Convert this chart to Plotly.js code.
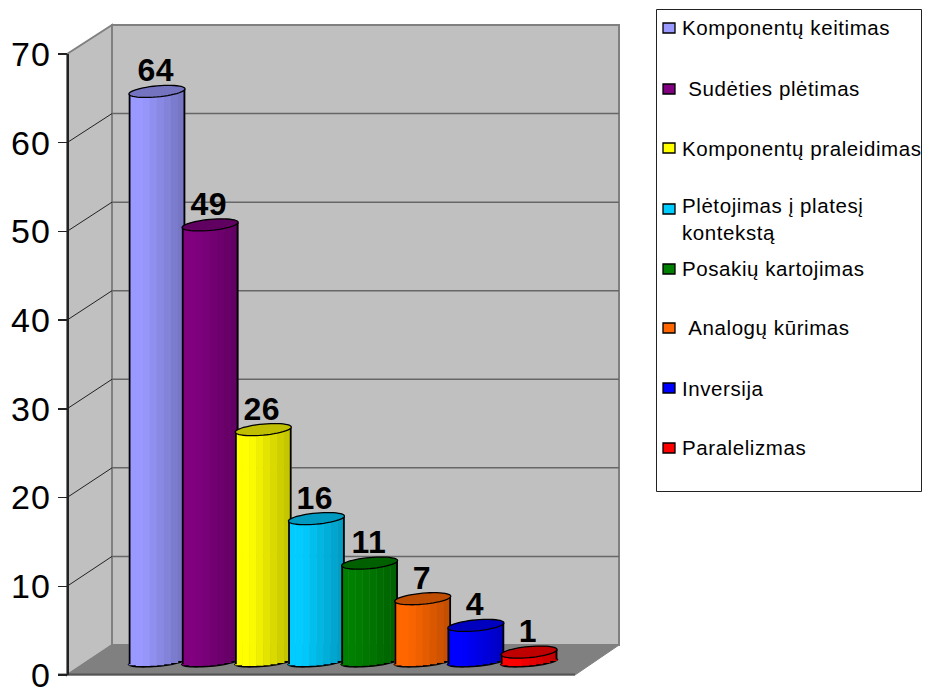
<!DOCTYPE html>
<html><head><meta charset="utf-8">
<script src="https://cdn.plot.ly/plotly-3.0.1.min.js"></script>
<style>html,body{margin:0;padding:0;background:#fff}#c{width:928px;height:687px}
.annotation text{letter-spacing:.58px}
.ytick text{letter-spacing:1.2px}</style>
</head><body><div id="c"></div>
<script>
const categories = ["Komponentų keitimas","\u00A0Sudėties plėtimas","Komponentų praleidimas","Plėtojimas į platesį<br>kontekstą","Posakių kartojimas","\u00A0Analogų kūrimas","Inversija","Paralelizmas"];
const values = [64,49,26,16,11,7,4,1];
const colors = ["#9999FF","#800080","#FFFF00","#00CCFF","#008000","#FF6600","#0000FF","#FF0000"];
const yTicks = [0,10,20,30,40,50,60,70];

const W=928,H=687;
const PX_STEP=53.15, X0=157;            // bar spacing on the page
const PX_UNIT=8.9, BASE_Y=661;          // bar scale
const RX=28, RY_TOP=5.5, RY_BOT=4.5, TILT=5/56;
const SLICES=8;
const fx=p=>p/W, fy=p=>1-p/H;
const shade=(hex,k)=>{const n=parseInt(hex.slice(1),16);
  return `rgb(${Math.round((n>>16&255)*k)},${Math.round((n>>8&255)*k)},${Math.round((n&255)*k)})`;};
const brightness=t=>t<0.25?1:1-(t-0.25)/0.75*0.25;

const traces=[{x:[0,1],y:[0,70],xaxis:'x',yaxis:'y',mode:'markers',marker:{opacity:0},hoverinfo:'skip',showlegend:false}];
const shapes=[];
const poly=(pts,o)=>shapes.push(Object.assign({type:'path',xref:'paper',yref:'paper',
  path:pts.map((p,i)=>(i?'L':'M')+fx(p[0])+','+fy(p[1])).join(' ')+' Z',layer:'below'},o));
const seg=(a,b,c,w)=>shapes.push({type:'line',xref:'paper',yref:'paper',x0:fx(a[0]),y0:fy(a[1]),x1:fx(b[0]),y1:fy(b[1]),layer:'below',line:{color:c,width:w}});

// walls and floor
poly([[112,25],[619,25],[619,645],[112,645]],{fillcolor:'#C0C0C0',line:{color:'#808080',width:2}});
poly([[67,54],[112,25],[112,645],[67,675]],{fillcolor:'#C0C0C0',line:{color:'#808080',width:2}});
poly([[67,675],[112,645],[619,645],[575,675]],{fillcolor:'#808080',line:{color:'#808080',width:1}});
yTicks.forEach(v=>{
  const yB=645-v*620/70, yF=675-v*621/70;
  if(v>0&&v<70){seg([112,yB],[619,yB],'#666666',1.5);seg([67,yF],[112,yB],'#222222',1);}
});
seg([58,674.5],[575,674.5],'#555555',2);

const dxData=p=>p/PX_STEP, dyData=p=>p/PX_UNIT;
values.forEach((v,i)=>{
  const slice=(dx,w,color)=>{
    const chord=TILT*dx;
    const f=Math.max(0,1-(dx/RX)*(dx/RX));
    const low=chord-RY_BOT*Math.sqrt(f);
    traces.push({type:'bar',x:[i+dxData(dx)],y:[v+dyData(chord-low)],base:[dyData(low)],
      width:[dxData(w)],xaxis:'x',yaxis:'y2',marker:{color,line:{width:0}},
      name:categories[i],hoverinfo:'skip',showlegend:false});
  };
  const sw=2*RX/SLICES;
  for(let k=0;k<SLICES;k++){
    const t=(k+.5)/SLICES;
    slice(-RX+sw*(k+.5),sw+0.4,shade(colors[i],brightness(t)));
  }
  slice(-RX+0.6,1.8,'#000');
  slice(RX-0.6,1.8,'#000');
  // bottom arc and top cap
  const arc=[];for(let a=0;a<=24;a++){const t=Math.PI+a/24*Math.PI;
    const px=RX*Math.cos(t),py=RY_BOT*Math.sin(t)+TILT*px;
    arc.push((a?'L':'M')+(i+dxData(px))+','+dyData(py));}
  shapes.push({type:'path',xref:'x',yref:'y2',path:arc.join(' '),layer:'between',line:{color:'#000',width:3}});
  const cap=[];for(let a=0;a<48;a++){const t=a/48*2*Math.PI;
    const px=RX*Math.cos(t),py=RY_TOP*Math.sin(t)+TILT*px;
    cap.push((a?'L':'M')+(i+dxData(px))+','+(v+dyData(py)));}
  shapes.push({type:'path',xref:'x',yref:'y2',path:cap.join(' ')+' Z',layer:'above',
    fillcolor:shade(colors[i],0.75),line:{color:'#000',width:1.3}});
});

// data labels
const annotations=values.map((v,i)=>({x:i,y:v,xref:'x',yref:'y2',text:'<b>'+v+'</b>',showarrow:false,
  xanchor:'center',yanchor:'bottom',yshift:1,xshift:-1,font:{family:'Liberation Sans',size:32,color:'#000'}}));

// legend
poly([[656.5,9.5],[921.5,9.5],[921.5,491.5],[656.5,491.5]],{fillcolor:'#fff',line:{color:'#222',width:1}});
const legendY=[27.5,88.5,148,219,268.5,327.5,388,447.5];
const swatchY=[28,89,148,209,269,328,388,448];
categories.forEach((c,i)=>{
  shapes.push({type:'rect',xref:'paper',yref:'paper',x0:fx(663),x1:fx(675),y0:fy(swatchY[i]+5),y1:fy(swatchY[i]-5),
    layer:'above',fillcolor:colors[i],line:{color:'#000',width:1.3}});
  annotations.push({xref:'paper',yref:'paper',x:fx(680),y:fy(legendY[i]),text:c,showarrow:false,
    xanchor:'left',yanchor:'middle',align:'left',font:{family:'Liberation Sans',size:20.5,color:'#000'}});
});

const layout={
  width:W,height:H,margin:{l:0,r:0,t:0,b:0},paper_bgcolor:'#fff',plot_bgcolor:'rgba(0,0,0,0)',
  barmode:'overlay',showlegend:false,hovermode:false,
  xaxis:{domain:[0,1],range:[-X0/PX_STEP,(W-X0)/PX_STEP],visible:false,fixedrange:true,anchor:'y2'},
  yaxis:{domain:[(H-675)/H,(H-54)/H],range:[0,70],tickvals:yTicks,ticktext:yTicks.map(String),
    anchor:'free',position:67/W,side:'left',showgrid:false,zeroline:false,showline:true,linecolor:'#222',linewidth:1.5,
    ticklabeloverflow:'allow',
    ticks:'outside',ticklen:9,tickcolor:'#222',tickwidth:1.5,tickfont:{family:'Liberation Sans',size:34,color:'#000'},fixedrange:true},
  yaxis2:{domain:[0,1],range:[-(H-BASE_Y)/PX_UNIT,BASE_Y/PX_UNIT],visible:false,fixedrange:true,anchor:'x'},
  shapes,annotations
};
Plotly.newPlot('c',traces,layout,{displayModeBar:false,staticPlot:true});
</script></body></html>
